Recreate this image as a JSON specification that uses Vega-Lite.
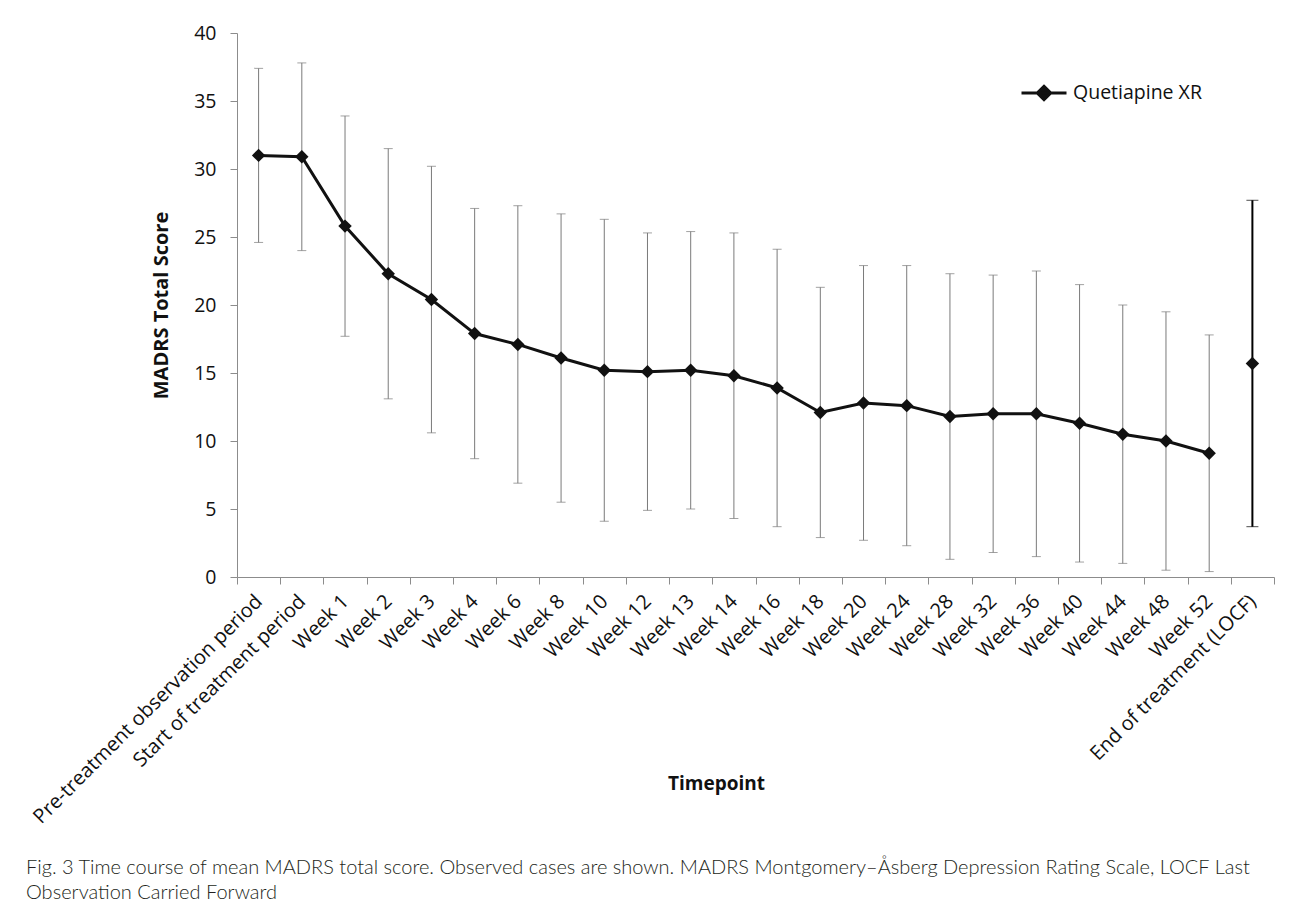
{
  "$schema": "https://vega.github.io/schema/vega-lite/v6.json",
  "width": 1037,
  "height": 544,
  "autosize": {"type": "none"},
  "padding": {"left": 237, "top": 33, "right": 18, "bottom": 325},
  "background": "white",
  "config": {
    "view": {"stroke": null},
    "font": "Open Sans",
    "axis": {"labelFont": "Open Sans", "titleFont": "Open Sans"},
    "legend": {"labelFont": "Open Sans"}
  },
  "title": {
    "text": [
      "Fig. 3 Time course of mean MADRS total score. Observed cases are shown. MADRS Montgomery–Åsberg Depression Rating Scale, LOCF Last",
      "Observation Carried Forward"
    ],
    "orient": "bottom",
    "anchor": "start",
    "frame": "group",
    "dx": -211,
    "offset": 31,
    "font": "Lato",
    "fontSize": 20,
    "fontWeight": 300,
    "color": "#231f20",
    "lineHeight": 25
  },
  "data": {
    "values": [
      {"timepoint": "Pre-treatment observation period", "mean": 31.0, "lower": 24.6, "upper": 37.4, "series": "Quetiapine XR"},
      {"timepoint": "Start of treatment period", "mean": 30.9, "lower": 24.0, "upper": 37.8, "series": "Quetiapine XR"},
      {"timepoint": "Week 1", "mean": 25.8, "lower": 17.7, "upper": 33.9, "series": "Quetiapine XR"},
      {"timepoint": "Week 2", "mean": 22.3, "lower": 13.1, "upper": 31.5, "series": "Quetiapine XR"},
      {"timepoint": "Week 3", "mean": 20.4, "lower": 10.6, "upper": 30.2, "series": "Quetiapine XR"},
      {"timepoint": "Week 4", "mean": 17.9, "lower": 8.7, "upper": 27.1, "series": "Quetiapine XR"},
      {"timepoint": "Week 6", "mean": 17.1, "lower": 6.9, "upper": 27.3, "series": "Quetiapine XR"},
      {"timepoint": "Week 8", "mean": 16.1, "lower": 5.5, "upper": 26.7, "series": "Quetiapine XR"},
      {"timepoint": "Week 10", "mean": 15.2, "lower": 4.1, "upper": 26.3, "series": "Quetiapine XR"},
      {"timepoint": "Week 12", "mean": 15.1, "lower": 4.9, "upper": 25.3, "series": "Quetiapine XR"},
      {"timepoint": "Week 13", "mean": 15.2, "lower": 5.0, "upper": 25.4, "series": "Quetiapine XR"},
      {"timepoint": "Week 14", "mean": 14.8, "lower": 4.3, "upper": 25.3, "series": "Quetiapine XR"},
      {"timepoint": "Week 16", "mean": 13.9, "lower": 3.7, "upper": 24.1, "series": "Quetiapine XR"},
      {"timepoint": "Week 18", "mean": 12.1, "lower": 2.9, "upper": 21.3, "series": "Quetiapine XR"},
      {"timepoint": "Week 20", "mean": 12.8, "lower": 2.7, "upper": 22.9, "series": "Quetiapine XR"},
      {"timepoint": "Week 24", "mean": 12.6, "lower": 2.3, "upper": 22.9, "series": "Quetiapine XR"},
      {"timepoint": "Week 28", "mean": 11.8, "lower": 1.3, "upper": 22.3, "series": "Quetiapine XR"},
      {"timepoint": "Week 32", "mean": 12.0, "lower": 1.8, "upper": 22.2, "series": "Quetiapine XR"},
      {"timepoint": "Week 36", "mean": 12.0, "lower": 1.5, "upper": 22.5, "series": "Quetiapine XR"},
      {"timepoint": "Week 40", "mean": 11.3, "lower": 1.1, "upper": 21.5, "series": "Quetiapine XR"},
      {"timepoint": "Week 44", "mean": 10.5, "lower": 1.0, "upper": 20.0, "series": "Quetiapine XR"},
      {"timepoint": "Week 48", "mean": 10.0, "lower": 0.5, "upper": 19.5, "series": "Quetiapine XR"},
      {"timepoint": "Week 52", "mean": 9.1, "lower": 0.4, "upper": 17.8, "series": "Quetiapine XR"},
      {"timepoint": "End of treatment (LOCF)", "mean": 15.7, "lower": 3.7, "upper": 27.7, "series": "Quetiapine XR"}
    ]
  },
  "encoding": {
    "x": {
      "field": "timepoint",
      "type": "nominal",
      "sort": null,
      "scale": {"type": "band", "paddingInner": 0, "paddingOuter": 0},
      "axis": {
        "title": "Timepoint",
        "titleFontSize": 19,
        "titleFontWeight": "bold",
        "titleColor": "#111111",
        "titleX": 479,
        "titleY": 197,
        "titleBaseline": "top",
        "labelAngle": -45,
        "labelAlign": "right",
        "labelBaseline": "middle",
        "labelFontSize": 20,
        "labelColor": "#111111",
        "labelPadding": 14,
        "labelOverlap": false,
        "labelLimit": 0,
        "tickBand": "extent",
        "tickSize": 7,
        "tickColor": "#8c8c8c",
        "domainColor": "#8c8c8c",
        "grid": false
      }
    }
  },
  "layer": [
    {
      "mark": {"type": "rule"},
      "encoding": {
        "y": {"field": "lower", "type": "quantitative"},
        "y2": {"field": "upper"},
        "color": {"condition": {"test": "datum.timepoint === 'End of treatment (LOCF)'", "value": "#000000"}, "value": "#7a7a7a"},
        "strokeWidth": {"condition": {"test": "datum.timepoint === 'End of treatment (LOCF)'", "value": 2}, "value": 1}
      }
    },
    {
      "mark": {"type": "tick", "orient": "horizontal"},
      "encoding": {
        "y": {"field": "upper", "type": "quantitative"},
        "color": {"condition": {"test": "datum.timepoint === 'End of treatment (LOCF)'", "value": "#000000"}, "value": "#7a7a7a"},
        "size": {"condition": {"test": "datum.timepoint === 'End of treatment (LOCF)'", "value": 12}, "value": 9},
        "strokeWidth": {"condition": {"test": "datum.timepoint === 'End of treatment (LOCF)'", "value": 2}, "value": 1}
      }
    },
    {
      "mark": {"type": "tick", "orient": "horizontal"},
      "encoding": {
        "y": {"field": "lower", "type": "quantitative"},
        "color": {"condition": {"test": "datum.timepoint === 'End of treatment (LOCF)'", "value": "#000000"}, "value": "#7a7a7a"},
        "size": {"condition": {"test": "datum.timepoint === 'End of treatment (LOCF)'", "value": 12}, "value": 9},
        "strokeWidth": {"condition": {"test": "datum.timepoint === 'End of treatment (LOCF)'", "value": 2}, "value": 1}
      }
    },
    {
      "transform": [{"filter": "datum.timepoint !== 'End of treatment (LOCF)'"}],
      "mark": {"type": "line", "strokeWidth": 3, "color": "#111111"},
      "encoding": {
        "y": {"field": "mean", "type": "quantitative"}
      }
    },
    {
      "mark": {"type": "point", "shape": "diamond", "filled": true, "size": 180, "opacity": 1},
      "encoding": {
        "y": {
          "field": "mean",
          "type": "quantitative",
          "scale": {"domain": [0, 40]},
          "axis": {
            "title": "MADRS Total Score",
            "titleFontSize": 20,
            "titleFontWeight": "bold",
            "titleColor": "#111111",
            "titlePadding": 22,
            "values": [0, 5, 10, 15, 20, 25, 30, 35, 40],
            "labelFontSize": 19.5,
            "labelColor": "#111111",
            "labelPadding": 14,
            "tickSize": 7,
            "tickColor": "#8c8c8c",
            "domainColor": "#8c8c8c",
            "grid": false
          }
        },
        "color": {
          "field": "series",
          "type": "nominal",
          "scale": {"range": ["#111111"]},
          "legend": {
            "title": null,
            "orient": "none",
            "legendX": 783,
            "legendY": 36,
            "padding": 0,
            "symbolType": "M-1,0L1,0M0,-0.3L0.3,0L0,0.3L-0.3,0Z",
            "symbolSize": 2025,
            "symbolFillColor": "#111111",
            "symbolStrokeColor": "#111111",
            "symbolStrokeWidth": 3,
            "labelFontSize": 19.5,
            "labelColor": "#111111",
            "labelOffset": 5
          }
        }
      }
    }
  ]
}
